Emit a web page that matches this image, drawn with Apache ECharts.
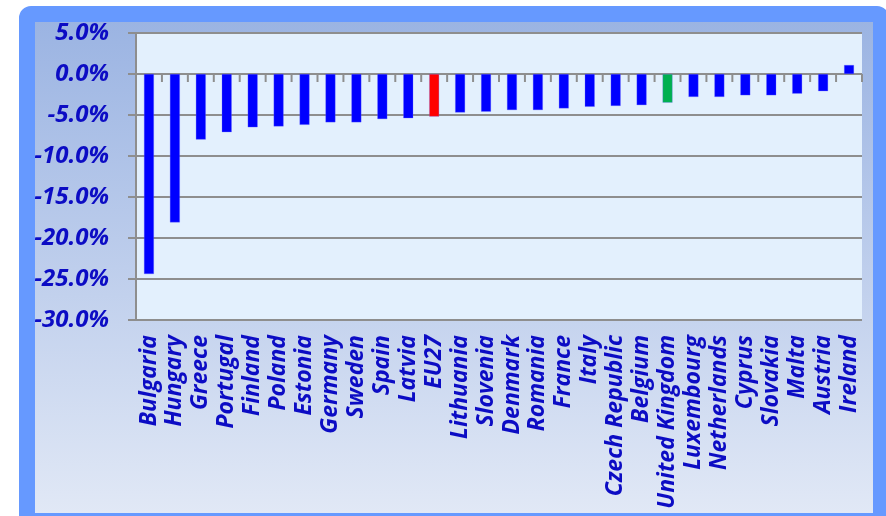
<!DOCTYPE html>
<html>
<head>
<meta charset="utf-8">
<script src="https://cdn.jsdelivr.net/npm/echarts@6/dist/echarts.min.js"></script>
<style>
  html, body { margin: 0; padding: 0; background: #ffffff; overflow: hidden; }
  #chart { width: 886px; height: 516px; }
</style>
</head>
<body>
<div id="chart"></div>
<script>
// Change by member state (%)
const countries = ['Bulgaria', 'Hungary', 'Greece', 'Portugal', 'Finland', 'Poland', 'Estonia',
  'Germany', 'Sweden', 'Spain', 'Latvia', 'EU27', 'Lithuania', 'Slovenia', 'Denmark', 'Romania',
  'France', 'Italy', 'Czech Republic', 'Belgium', 'United Kingdom', 'Luxembourg', 'Netherlands',
  'Cyprus', 'Slovakia', 'Malta', 'Austria', 'Ireland'];
const changes = [-24.4, -18.1, -8.0, -7.1, -6.5, -6.4, -6.2, -5.9, -5.9, -5.5, -5.4, -5.2, -4.7,
  -4.6, -4.4, -4.4, -4.2, -4.0, -3.9, -3.8, -3.5, -2.8, -2.8, -2.6, -2.6, -2.4, -2.1, 1.1];
const yTicks = [-30, -25, -20, -15, -10, -5, 0, 5];

const highlight = { 'EU27': '#ff0000', 'United Kingdom': '#00b050' };
const labelColor = '#0c0cc4';
const gridColor = '#8e8e8e';
const labelFont = 'Open Sans';

// short ticks hanging below the zero line at every category boundary
function zeroTicks(params, api) {
  const p = api.coord([api.value(0), 0]);
  const half = api.size([1, 0])[0] / 2;
  const tick = x => ({
    type: 'line',
    shape: { x1: x, y1: p[1], x2: x, y2: p[1] + 8 },
    style: { stroke: gridColor, lineWidth: 2 }
  });
  const children = [tick(p[0] - half)];
  if (params.dataIndex === countries.length - 1) children.push(tick(p[0] + half));
  return { type: 'group', children };
}

const chart = echarts.init(document.getElementById('chart'));
chart.setOption({
  animation: false,
  backgroundColor: 'transparent',
  grid: { left: 136, top: 33, width: 726, height: 287, containLabel: false,
          show: true, backgroundColor: '#e3f0fd', borderWidth: 0 },
  graphic: [
    { type: 'rect', z: -10, silent: true,
      shape: { x: 27, y: 14, width: 854, height: 507, r: 4 },
      style: { fill: new echarts.graphic.LinearGradient(0, 0, 0, 1, [
        { offset: 0, color: '#9ab3e2' }, { offset: 1, color: '#e2e9f6' }]) } },
    { type: 'rect', z: 100, silent: true,
      shape: { x: 27, y: 14, width: 854, height: 507, r: 4 },
      style: { fill: null, stroke: '#6699ff', lineWidth: 16 } }
  ],
  xAxis: {
    type: 'category', data: countries, position: 'bottom',
    axisLine: { show: false, onZero: false }, axisTick: { show: false },
    axisLabel: { rotate: 90, margin: 15, interval: 0, color: labelColor,
                 fontFamily: labelFont, fontWeight: 'bold', fontStyle: 'italic', fontSize: 23 }
  },
  yAxis: {
    type: 'value', min: yTicks[0], max: yTicks[yTicks.length - 1], interval: 5,
    axisLine: { show: true, lineStyle: { color: gridColor, width: 2 } },
    axisTick: { show: true, length: 8, lineStyle: { color: gridColor, width: 2 } },
    splitLine: { show: true, lineStyle: { color: gridColor, width: 2 } },
    axisLabel: { margin: 27, color: labelColor, fontFamily: labelFont, fontWeight: 'bold',
                 fontStyle: 'italic', fontSize: 24,
                 formatter: v => v.toFixed(1) + '%' }
  },
  series: [
    {
      type: 'bar', barWidth: 10, z: 6,
      data: changes.map((v, i) => ({
        value: v,
        itemStyle: { color: highlight[countries[i]] || '#0000ff' }
      })),
      itemStyle: { borderColor: 'rgba(110,110,255,0.6)', borderWidth: 0.5 }
    },
    {
      type: 'custom', silent: true, z: 5,
      data: countries.map(c => [c, 0]),
      renderItem: zeroTicks
    }
  ]
});
</script>
</body>
</html>
